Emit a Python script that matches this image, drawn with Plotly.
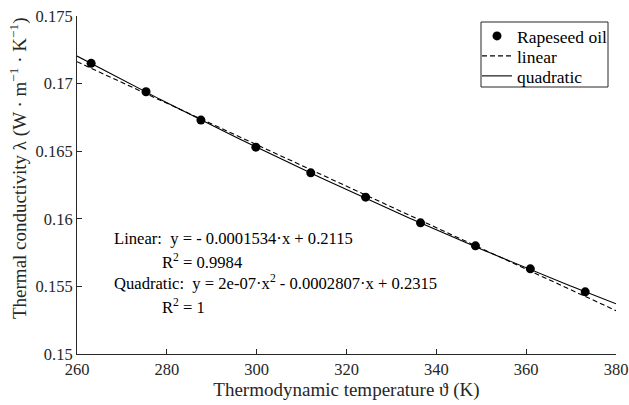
import numpy as np
import plotly.graph_objects as go

# Data
temperature_K = [263.15, 275.37, 287.59, 299.82, 312.04, 324.26, 336.48, 348.71, 360.93, 373.15]
conductivity = [0.1715, 0.1694, 0.1673, 0.1653, 0.1634, 0.1616, 0.1597, 0.1580, 0.1563, 0.1546]
linear_coef = [-0.0001534, 0.2115]            # slope, intercept
quad_coef = [2e-07, -0.0002807, 0.2315]       # a, b, c
x_ticks = [260, 280, 300, 320, 340, 360, 380]
y_ticks = [0.15, 0.155, 0.16, 0.165, 0.17, 0.175]
y_tick_labels = ["0.15", "0.155", "0.16", "0.165", "0.17", "0.175"]
series_names = ["Rapeseed oil", "linear", "quadratic"]

FONT = "Liberation Serif"
INK = "#262626"
W, H = 629, 405
ML, MR, MT, MB = 77, 13, 16, 51

xf = np.linspace(260, 380, 200)
y_lin = np.polyval(linear_coef, xf)
y_quad = np.polyval(quad_coef, xf)

pw = W - ML - MR
ph = H - MT - MB
def px_x(p):
    return (p - ML) / pw
def px_y(p):
    return (H - MB - p) / ph

fig = go.Figure()
fig.add_trace(go.Scatter(x=temperature_K, y=conductivity, mode="markers",
                         marker=dict(color="black", size=9), name=series_names[0],
                         legend="legend"))
fig.add_trace(go.Scatter(x=xf, y=y_lin, mode="lines",
                         line=dict(color="black", width=1.1, dash="5px,3px"), name=series_names[1],
                         legend="legend2"))
fig.add_trace(go.Scatter(x=xf, y=y_quad, mode="lines",
                         line=dict(color="black", width=1.1), name=series_names[2],
                         legend="legend3"))

nb = "\u00a0"
ann_font = dict(family=FONT, size=16.6, color="black")
texts = [
    ("Linear:" + nb + nb + "y = - 0.0001534·x + 0.2115", 112, 238),
    ("R<sup>2</sup> = 0.9984", 160, 261),
    ("Quadratic:" + nb + nb + "y = 2e-07·x<sup>2</sup> - 0.0002807·x + 0.2315", 112, 282),
    ("R<sup>2</sup> = 1", 160, 306),
]
for t, xp, yp in texts:
    fig.add_annotation(text=t, xref="paper", yref="paper", x=px_x(xp), y=px_y(yp),
                       xanchor="left", yanchor="middle", showarrow=False, font=ann_font)

# y-axis title (offset like the reference)
fig.add_annotation(text="Thermal conductivity λ (W · m<sup>−1</sup> · K<sup>−1</sup>)",
                   xref="paper", yref="paper", x=px_x(18), y=px_y(168),
                   xanchor="center", yanchor="middle", textangle=-90, showarrow=False,
                   font=dict(family=FONT, size=19, color=INK))

axis_common = dict(showline=True, linecolor=INK, linewidth=1, ticks="inside",
                   ticklen=5, tickcolor=INK, showgrid=False, zeroline=False,
                   tickfont=dict(family=FONT, size=16.5, color=INK), mirror=False,
                   automargin=False)

fig.update_xaxes(range=[260, 380], tickvals=x_ticks,
                 title=dict(text="Thermodynamic temperature ϑ (K)",
                            font=dict(family=FONT, size=19, color=INK), standoff=3),
                 **axis_common)
fig.update_yaxes(range=[0.15, 0.175], tickvals=y_ticks, ticktext=y_tick_labels,
                 **axis_common)

leg_common = dict(xanchor="left", yanchor="middle", borderwidth=0, bgcolor="rgba(0,0,0,0)",
                  font=dict(family=FONT, size=17.5, color="black"), itemwidth=30)
fig.update_layout(
    width=W, height=H,
    margin=dict(l=ML, r=MR, t=MT, b=MB),
    paper_bgcolor="white", plot_bgcolor="white",
    showlegend=True,
    legend=dict(x=px_x(477), y=px_y(36), **leg_common),
    legend2=dict(x=px_x(477), y=px_y(56), **leg_common),
    legend3=dict(x=px_x(477), y=px_y(76), **leg_common),
)
# legend frame
fig.add_shape(type="rect", xref="paper", yref="paper",
              x0=px_x(481), x1=px_x(608), y0=px_y(87), y1=px_y(22),
              line=dict(color=INK, width=1), fillcolor="rgba(0,0,0,0)", layer="above")

fig.write_html("out.html", config={"displayModeBar": False},
               post_script="document.body.style.margin='0';document.body.style.overflow='hidden';")
